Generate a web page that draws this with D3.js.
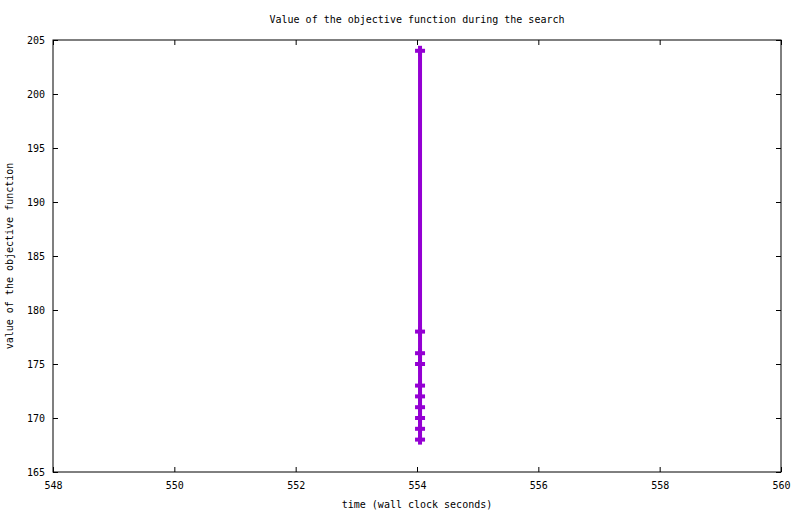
<!DOCTYPE html>
<html>
<head>
<meta charset="utf-8">
<script src="https://cdn.jsdelivr.net/npm/d3@7"></script>
<style>
  body { margin: 0; background: #fff; }
  text { font-family: "DejaVu Sans Mono", monospace; font-size: 10px; fill: #000; }
</style>
</head>
<body>
<div id="chart"></div>
<script>
// data (points sit a hair right of the 554 tick)
var times = [554.05, 554.05, 554.05, 554.05, 554.05, 554.05, 554.05, 554.05, 554.05, 554.05];
var values = [204, 178, 176, 175, 173, 172, 171, 170, 169, 168];
var xTicks = [548, 550, 552, 554, 556, 558, 560];
var yTicks = [165, 170, 175, 180, 185, 190, 195, 200, 205];

var W = 800, H = 514;
var margin = { top: 40, right: 19, bottom: 42, left: 53 },
  width = W - margin.left - margin.right,
  height = H - margin.top - margin.bottom;

var svg = d3.select("#chart")
  .append("svg")
  .attr("width", W)
  .attr("height", H);

var g = svg.append("g")
  .attr("transform", "translate(" + margin.left + "," + margin.top + ")");

var x = d3.scaleLinear().domain([548, 560]).range([0, width]);
var y = d3.scaleLinear().domain([165, 205]).range([height, 0]);

// gnuplot style axes: inward ticks, mirrored on all sides
var tick = 5;
function noDomain(sel) { sel.select(".domain").remove(); sel.selectAll("line").attr("stroke", "#000"); }

g.append("g")
  .attr("transform", "translate(0," + height + ")")
  .call(d3.axisBottom(x).tickValues(xTicks).tickSize(-tick).tickPadding(10).tickFormat(d3.format("d")))
  .call(noDomain)
  .selectAll("text").attr("font-size", null).attr("font-family", null);

g.append("g")
  .call(d3.axisTop(x).tickValues(xTicks).tickSize(-tick).tickFormat(""))
  .call(noDomain);

g.append("g")
  .call(d3.axisLeft(y).tickValues(yTicks).tickSize(-tick).tickPadding(8).tickFormat(d3.format("d")))
  .call(noDomain)
  .selectAll("text").attr("font-size", null).attr("font-family", null);

g.append("g")
  .attr("transform", "translate(" + width + ",0)")
  .call(d3.axisRight(y).tickValues(yTicks).tickSize(-tick).tickFormat(""))
  .call(noDomain);

g.append("rect")
  .attr("width", width)
  .attr("height", height)
  .attr("fill", "none")
  .attr("stroke", "#000")
  .attr("stroke-width", 1);

var pts = times.map(function (t, i) { return { t: t, v: values[i] }; });
var color = "#9400d3";

g.append("path")
  .datum(pts)
  .attr("fill", "none")
  .attr("stroke", color)
  .attr("stroke-width", 4)
  .attr("d", d3.line().x(function (d) { return x(d.t); }).y(function (d) { return y(d.v); }));

// plus markers
g.selectAll(".pt")
  .data(pts)
  .enter().append("g")
  .attr("transform", function (d) { return "translate(" + x(d.t) + "," + y(d.v) + ")"; })
  .each(function () {
    d3.select(this).append("line").attr("x1", -5).attr("x2", 5).attr("stroke", color).attr("stroke-width", 4);
    d3.select(this).append("line").attr("y1", -5).attr("y2", 5).attr("stroke", color).attr("stroke-width", 4);
  });

svg.append("text")
  .attr("x", margin.left + width / 2)
  .attr("y", 23)
  .attr("text-anchor", "middle")
  .text("Value of the objective function during the search");

svg.append("text")
  .attr("x", margin.left + width / 2)
  .attr("y", 508)
  .attr("text-anchor", "middle")
  .text("time (wall clock seconds)");

svg.append("text")
  .attr("transform", "translate(13," + (margin.top + height / 2) + ") rotate(-90)")
  .attr("text-anchor", "middle")
  .text("value of the objective function");
</script>
</body>
</html>
